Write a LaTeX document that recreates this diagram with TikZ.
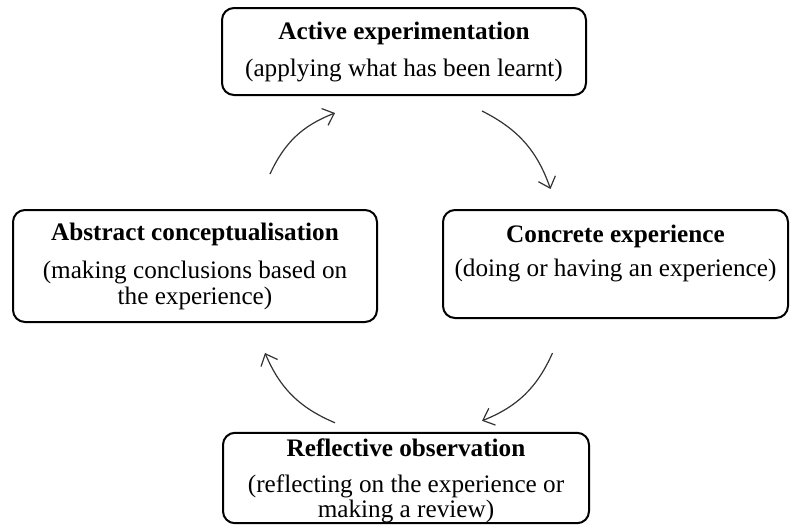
\documentclass[tikz,border=0pt]{standalone}
\usepackage{fontspec}
\setmainfont{Liberation Serif}
\usetikzlibrary{arrows.meta}

\begin{document}
\begin{tikzpicture}[
    x=0.5pt, y=-0.5pt,
    every node/.style={inner xsep=2mm, inner ysep=0pt},
    StageShape/.style={rectangle, draw=black, line width=1pt,
        rounded corners=6pt, align=center,
        font=\fontsize{12.6}{13}\selectfont},
    CycleArrow/.style={line width=0.6pt, draw=black!80,
        -{Straight Barb[length=5pt,width=9pt]}, bend left=22}
]
\useasboundingbox (0,0) rectangle (790,525);

% the four stages
\node (active) [StageShape, minimum width=182pt, minimum height=43.5pt]
    at (404,51.5) {\textbf{Active experimentation}\\[5.5pt]
    (applying what has been learnt)};
\node (abstract) [StageShape, minimum width=182pt, minimum height=56pt]
    at (195,266) {\textbf{Abstract conceptualisation}\\[6pt]
    (making conclusions based on\\ the experience)};
\node (concrete) [StageShape, minimum width=172.5pt, minimum height=54pt]
    at (615.5,264) {\textbf{Concrete experience}\\[4pt]
    (doing or having an experience)\\ \mbox{}};
\node (reflective) [StageShape, minimum width=183pt, minimum height=45pt,
    font=\fontsize{12.6}{12.5}\selectfont]
    at (406,478) {\rule{0pt}{12pt}\textbf{Reflective observation}\\[5.5pt]
    (reflecting on the experience or\\ making a review)};

% the cycle
\draw [CycleArrow] ([shift={(75,-35)}]abstract.north)
    to ([shift={(-69,17)}]active.south);
\draw [CycleArrow] ([shift={(78,15)}]active.south)
    to ([shift={(-65,-20)}]concrete.north);
\draw [CycleArrow] ([shift={(-63,34)}]concrete.south)
    to ([shift={(76,-11)}]reflective.north);
\draw [CycleArrow] ([shift={(-71,-9)}]reflective.north)
    to ([shift={(70,30)}]abstract.south);
\end{tikzpicture}
\end{document}
